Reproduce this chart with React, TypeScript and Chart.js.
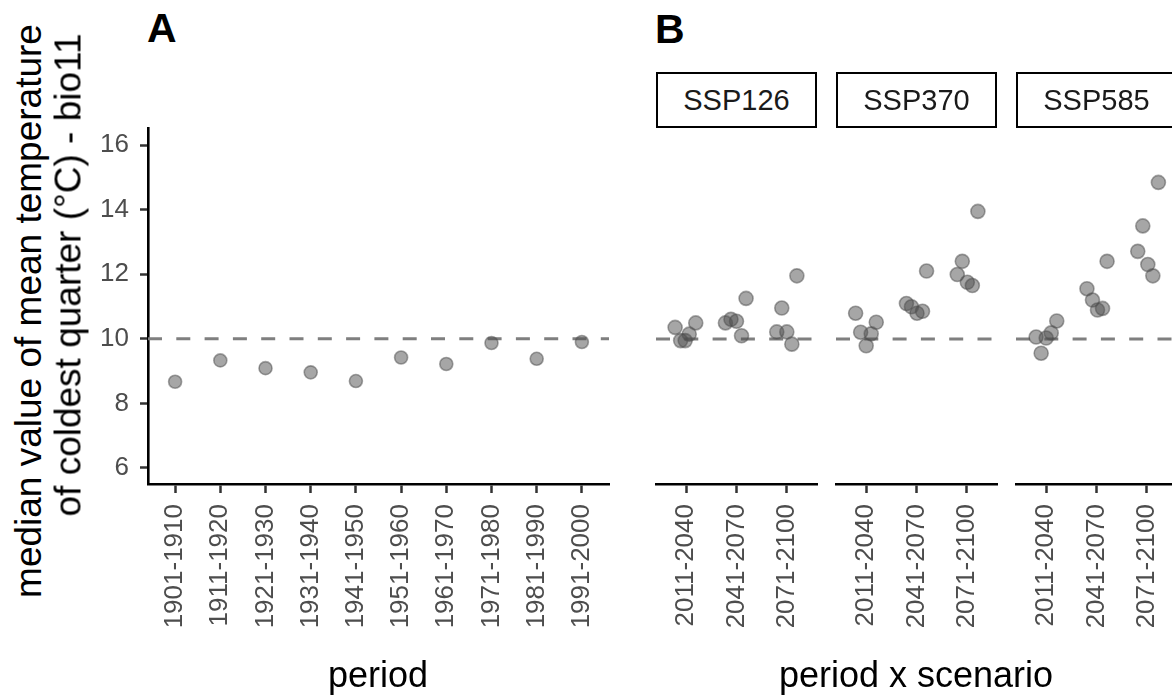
import React, { useEffect, useRef } from "react";
import { Chart, registerables } from "chart.js";
Chart.register(...registerables);

const FONT = "'Liberation Sans', Arial, Helvetica, sans-serif";

// ---------- data ----------
const historicalPeriods = [
  "1901-1910", "1911-1920", "1921-1930", "1931-1940", "1941-1950",
  "1951-1960", "1961-1970", "1971-1980", "1981-1990", "1991-2000",
];
const historicalValues = [8.67, 9.33, 9.09, 8.96, 8.69, 9.42, 9.22, 9.87, 9.38, 9.9];

const futurePeriods = ["2011-2040", "2041-2070", "2071-2100"];
const scenarios = ["SSP126", "SSP370", "SSP585"];

// values per period (5 GCMs each)
const ssp126Values = [
  [10.36, 10.5, 10.15, 9.95, 9.95],
  [10.5, 10.61, 10.55, 11.26, 10.1],
  [11.96, 10.96, 10.22, 10.22, 9.84],
];
const ssp370Values = [
  [10.8, 10.52, 10.21, 10.16, 9.79],
  [11.1, 11.0, 10.8, 10.86, 12.11],
  [13.96, 12.41, 12.0, 11.76, 11.66],
];
const ssp585Values = [
  [10.06, 10.56, 10.19, 10.03, 9.56],
  [11.56, 11.21, 10.9, 10.95, 12.41],
  [14.86, 13.51, 12.72, 12.31, 11.96],
];
// horizontal jitter (in category units)
const ssp126Jitter = [
  [-0.22, 0.19, 0.06, -0.11, -0.02],
  [-0.22, -0.11, 0.0, 0.19, 0.1],
  [0.2, -0.1, -0.2, 0.0, 0.1],
];
const ssp370Jitter = [
  [-0.21, 0.2, -0.11, 0.1, 0.0],
  [-0.2, -0.1, 0.01, 0.12, 0.2],
  [0.22, -0.09, -0.19, 0.01, 0.11],
];
const ssp585Jitter = [
  [-0.2, 0.21, 0.1, 0.0, -0.1],
  [-0.19, -0.08, 0.02, 0.12, 0.21],
  [0.23, -0.08, -0.18, 0.02, 0.12],
];

const yTicks = [6, 8, 10, 12, 14, 16];
const yMin = 5.5;
const yMax = 16.53;
const referenceTemp = 10;

// ---------- styling ----------
const TICK_COLOR = "#4d4d4d";
const POINT_FILL = "rgba(77,77,77,0.5)";
const TICK_FONT_SIZE = 26;

const refLinePlugin = {
  id: "refLine",
  beforeDatasetsDraw(chart: any) {
    const y = chart.scales.y.getPixelForValue(referenceTemp);
    const { left, right } = chart.chartArea;
    const ctx = chart.ctx;
    ctx.save();
    ctx.strokeStyle = "#7f7f7f";
    ctx.lineWidth = 3;
    ctx.setLineDash([14, 14.3]);
    ctx.beginPath();
    ctx.moveTo(left, y);
    ctx.lineTo(right, y);
    ctx.stroke();
    ctx.restore();
  },
};

function makeChart(
  canvas: HTMLCanvasElement,
  points: { x: number; y: number }[],
  labels: string[],
  showY: boolean,
  padding: { left: number; right: number; top: number; bottom: number },
  radius: number
) {
  const n = labels.length;
  const xTickVals = labels.map((_, i) => i + 1);
  return new Chart(canvas, {
    type: "scatter",
    data: {
      datasets: [
        {
          data: points,
          backgroundColor: POINT_FILL,
          borderColor: POINT_FILL,
          borderWidth: 1.6,
          pointRadius: radius,
          pointHoverRadius: radius,
          clip: false,
        },
      ],
    },
    options: {
      animation: false,
      responsive: false,
      events: [],
      layout: { padding },
      plugins: { legend: { display: false }, tooltip: { enabled: false } },
      scales: {
        x: {
          type: "linear",
          min: 0.4,
          max: n + 0.6,
          afterBuildTicks: (scale: any) => {
            scale.ticks = xTickVals.map((v) => ({ value: v }));
          },
          afterFit: (scale: any) => {
            scale.height = 212;
            scale.paddingLeft = 0;
            scale.paddingRight = 0;
            scale.paddingTop = 0;
            scale.paddingBottom = 0;
          },
          border: { display: true, color: "#000", width: 2.6 },
          grid: {
            display: true,
            drawOnChartArea: false,
            drawTicks: true,
            tickLength: 9,
            tickColor: "#333",
            tickWidth: 2.5,
          },
          ticks: {
            autoSkip: false,
            maxRotation: 90,
            minRotation: 90,
            padding: 11,
            color: TICK_COLOR,
            font: { family: FONT, size: TICK_FONT_SIZE },
            callback: (v: any) => labels[Math.round(Number(v)) - 1] ?? "",
          },
        },
        y: {
          type: "linear",
          display: showY,
          min: yMin,
          max: yMax,
          afterBuildTicks: (scale: any) => {
            scale.ticks = yTicks.map((v) => ({ value: v }));
          },
          afterFit: (scale: any) => {
            scale.width = showY ? 60 : 0;
            scale.paddingLeft = 0;
            scale.paddingRight = 0;
            scale.paddingTop = 0;
            scale.paddingBottom = 0;
          },
          border: { display: true, color: "#000", width: 2.6 },
          grid: {
            display: true,
            drawOnChartArea: false,
            drawTicks: true,
            tickLength: 8,
            tickColor: "#333",
            tickWidth: 2.5,
          },
          ticks: {
            padding: 11,
            color: TICK_COLOR,
            font: { family: FONT, size: TICK_FONT_SIZE },
            callback: (v: any) => String(v),
          },
        },
      },
    } as any,
    plugins: [refLinePlugin],
  });
}

function facetPoints(values: number[][], jitter: number[][]) {
  const pts: { x: number; y: number }[] = [];
  values.forEach((arr, i) =>
    arr.forEach((v, j) => pts.push({ x: i + 1 + jitter[i][j], y: v }))
  );
  return pts;
}

const Text = (props: {
  x: number;
  baseline: number;
  size: number;
  children: any;
  bold?: boolean;
  align?: "left" | "center";
  color?: string;
}) => {
  const { x, baseline, size, bold, align = "left", color = "#000" } = props;
  const top = baseline - 0.8465 * size;
  return (
    <div
      style={{
        position: "absolute",
        left: x,
        top,
        fontFamily: FONT,
        fontSize: size,
        lineHeight: `${size}px`,
        fontWeight: bold ? 700 : 400,
        color,
        whiteSpace: "nowrap",
        transform: align === "center" ? "translateX(-50%)" : undefined,
      }}
    >
      {props.children}
    </div>
  );
};

const RotText = (props: { cx: number; cy: number; size: number; children: any }) => (
  <div
    style={{
      position: "absolute",
      left: props.cx,
      top: props.cy,
      fontFamily: FONT,
      fontSize: props.size,
      lineHeight: `${props.size}px`,
      whiteSpace: "nowrap",
      color: "#000",
      transform: "translate(-50%,-50%) rotate(-90deg)",
    }}
  >
    {props.children}
  </div>
);

const facetLefts = [656, 836, 1016];
const FACET_W = 161;

export default function App() {
  const aRef = useRef<HTMLCanvasElement>(null);
  const f1 = useRef<HTMLCanvasElement>(null);
  const f2 = useRef<HTMLCanvasElement>(null);
  const f3 = useRef<HTMLCanvasElement>(null);

  useEffect(() => {
    const charts: Chart[] = [];
    const histPts = historicalValues.map((v, i) => ({ x: i + 1, y: v }));
    charts.push(
      makeChart(aRef.current!, histPts, historicalPeriods, true,
        { left: 0, right: 9, top: 8, bottom: 0 }, 6.5)
    );
    const facetData = [
      facetPoints(ssp126Values, ssp126Jitter),
      facetPoints(ssp370Values, ssp370Jitter),
      facetPoints(ssp585Values, ssp585Jitter),
    ];
    [f1, f2, f3].forEach((r, k) => {
      charts.push(
        makeChart(r.current!, facetData[k], futurePeriods, false,
          { left: 10, right: 10, top: 8, bottom: 0 }, 7)
      );
    });
    return () => charts.forEach((c) => c.destroy());
  }, []);

  return (
    <div
      style={{
        position: "fixed",
        left: 0,
        top: 0,
        width: 1172,
        height: 696,
        overflow: "hidden",
        background: "#fff",
      }}
    >
      <canvas ref={aRef} width={530} height={576}
        style={{ position: "absolute", left: 88, top: 120 }} />
      {[f1, f2, f3].map((r, k) => (
        <canvas key={k} ref={r} width={FACET_W + 20} height={576}
          style={{ position: "absolute", left: facetLefts[k] - 10, top: 120 }} />
      ))}

      {scenarios.map((s, k) => (
        <div
          key={s}
          style={{
            position: "absolute",
            left: facetLefts[k],
            top: 72,
            width: FACET_W,
            height: 56,
            boxSizing: "border-box",
            border: "2.5px solid #000",
            background: "#fff",
            display: "flex",
            alignItems: "center",
            justifyContent: "center",
            fontFamily: FONT,
            fontSize: 29,
            color: "#1a1a1a",
          }}
        >
          {s}
        </div>
      ))}

      <Text x={147} baseline={43} size={41} bold>A</Text>
      <Text x={655} baseline={44} size={41} bold>B</Text>

      <RotText cx={27.5} cy={311} size={37}>median value of mean temperature</RotText>
      <RotText cx={67.5} cy={275} size={37}>of coldest quarter (°C) - bio11</RotText>

      <Text x={378} baseline={687} size={36} align="center">period</Text>
      <Text x={916} baseline={687} size={36} align="center">period x scenario</Text>
    </div>
  );
}
